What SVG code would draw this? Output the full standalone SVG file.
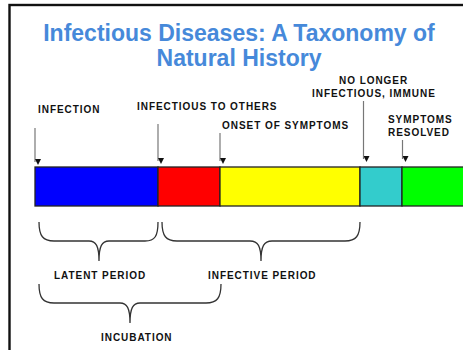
<svg xmlns="http://www.w3.org/2000/svg" width="463" height="350" viewBox="0 0 463 350">
  <style>
    .title { font-family: "Liberation Sans", Arial, sans-serif; font-weight: bold; font-size: 23px; fill: #4689DA; text-anchor: middle; }
    .lbl { font-family: "Liberation Sans", Arial, sans-serif; font-weight: bold; font-size: 10px; fill: #111; letter-spacing: 0.95px; }
    .seg { stroke: #222; stroke-width: 1.3; }
    .arrow { stroke: #777; stroke-width: 1.2; fill: none; marker-end: url(#ah); }
    .brace { stroke: #333; stroke-width: 1.3; fill: none; }
  </style>
  <defs>
    <marker id="ah" viewBox="0 0 6 6" refX="3" refY="6" markerWidth="6" markerHeight="6" markerUnits="userSpaceOnUse" orient="auto-start-reverse">
      <path d="M0,0 L6,0 L3,6 Z" fill="#111" transform="rotate(-90 3 3)"/>
    </marker>
  </defs>
  <rect x="0" y="0" width="463" height="350" fill="#ffffff"/>
  <rect id="frame" x="9.5" y="5" width="470" height="360" fill="none" stroke="#111" stroke-width="2.4"/>

  <g id="title">
    <text class="title" x="239" y="41">Infectious Diseases: A Taxonomy of</text>
    <text class="title" x="239" y="66">Natural History</text>
  </g>

  <g id="bar">
    <rect id="latent" class="seg" x="35" y="167" width="123" height="39" fill="#0000FF"/>
    <rect id="infectious" class="seg" x="158" y="167" width="62" height="39" fill="#FF0000"/>
    <rect id="symptomatic" class="seg" x="220" y="167" width="140" height="39" fill="#FFFF00"/>
    <rect id="immune" class="seg" x="360" y="167" width="42" height="39" fill="#33CCCC"/>
    <rect id="resolved" class="seg" x="402" y="167" width="70" height="39" fill="#00FF00"/>
  </g>

  <g id="labels">
    <text id="l-infection" class="lbl" x="38" y="113">INFECTION</text>
    <text id="l-infectious" class="lbl" x="137" y="110">INFECTIOUS TO OTHERS</text>
    <text id="l-onset" class="lbl" x="222" y="129">ONSET OF SYMPTOMS</text>
    <text id="l-nolonger" class="lbl"><tspan x="339" y="84">NO LONGER</tspan><tspan x="312" y="97">INFECTIOUS, IMMUNE</tspan></text>
    <text id="l-resolved" class="lbl"><tspan x="388" y="123">SYMPTOMS</tspan><tspan x="388" y="136">RESOLVED</tspan></text>
    <text id="l-latent" class="lbl" x="54" y="279">LATENT PERIOD</text>
    <text id="l-infective" class="lbl" x="208" y="279">INFECTIVE PERIOD</text>
    <text id="l-incubation" class="lbl" x="101" y="341">INCUBATION</text>
  </g>

  <g id="connectors">
    <line class="arrow" x1="35" y1="128" x2="35" y2="162"/>
    <line class="arrow" x1="158" y1="124" x2="158" y2="161"/>
    <line class="arrow" x1="220" y1="133" x2="220" y2="161"/>
    <line class="arrow" x1="363.5" y1="101" x2="363.5" y2="159"/>
    <line class="arrow" x1="402.5" y1="140" x2="402.5" y2="159"/>
  </g>

  <g id="braces">
    <path class="brace" d="M39,222 C39,236 43,241 54,241 L89,241 C96,241 99,246 99,261 C99,246 102,241 109,241 L145,241 C155,241 158,236 158,222"/>
    <path class="brace" d="M162,222 C162,236 166,241 177,241 L250,241 C258,241 261,246 261,261 C261,246 264,241 272,241 L345,241 C356,241 360,236 360,222"/>
    <path class="brace" d="M39,284 C39,298 43,303 54,303 L120,303 C127,303 130,308 130,323 C130,308 133,303 140,303 L206,303 C217,303 221,298 221,284"/>
  </g>
</svg>
